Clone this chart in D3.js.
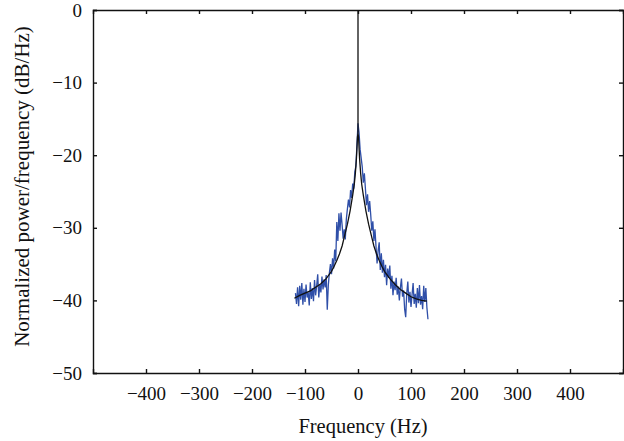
<!DOCTYPE html>
<html>
<head>
<meta charset="utf-8">
<script src="https://d3js.org/d3.v7.min.js"></script>
<style>
    html { font-family: "Liberation Serif", serif; }
    body { margin: 0; background: #fff; }
    .axis text { font-family: "Liberation Serif", serif; fill: #111; }
    .title { font-family: "Liberation Serif", serif; fill: #111; }
</style>
</head>
<body>
<div id="graph"></div>
<script>
    // axis ticks
    var xTicks = [-400, -300, -200, -100, 0, 100, 200, 300, 400];
    var yTicks = [0, -10, -20, -30, -40, -50];

    // measured spectrum (blue)
    var measFreq = d3.range(-118, 133, 2);
    var measPower = [
        -39.0, -40.5, -38.2, -40.8, -38.0, -39.9, -37.6, -40.6, -38.4, -40.2,
        -37.8, -39.6, -38.9, -40.7, -37.5, -39.8, -38.3, -40.1, -37.2, -39.3,
        -38.0, -36.4, -39.6, -37.8, -38.9, -36.7, -38.5, -37.1, -38.2, -36.5,
        -41.3, -37.9, -36.2, -35.0, -36.4, -34.2, -35.6, -33.0, -34.6, -29.2,
        -31.8, -28.0, -30.4, -27.9, -29.6, -31.5, -30.2, -31.6, -28.8, -27.4,
        -26.1, -27.2, -24.8, -25.9, -23.9, -24.6, -22.3, -21.5, -18.6, -15.6,
        -16.9, -19.2, -20.4, -21.6, -23.8, -22.5, -24.6, -26.9, -25.4, -27.8,
        -26.3, -28.2, -30.4, -29.1, -31.8, -30.2, -32.6, -34.9, -33.1, -32.0,
        -35.8, -33.5, -36.2, -34.4, -36.8, -35.1, -37.9, -35.6, -36.9, -35.2,
        -38.4, -36.6, -39.3, -37.4, -38.6, -36.9, -39.2, -38.1, -40.0, -38.2,
        -37.0, -39.5, -38.6, -41.2, -42.3, -39.0, -37.4, -40.3, -38.8, -40.9,
        -39.2, -37.6, -40.5, -39.1, -41.0, -38.3, -40.4, -37.9, -40.6, -39.4,
        -41.2, -38.0, -40.2, -38.3, -41.0, -42.6
    ];

    // fitted spectrum (black)
    var fitFreq = [-120, -110, -100, -90, -80, -70, -60, -50, -45, -40, -35, -30, -25, -20, -15, -10, -7, -5, -3, -2, -1,
                   0, 0, 0, 1, 2, 3, 5, 7, 10, 15, 20, 25, 30, 35, 40, 45, 50, 60, 70, 80, 90, 100, 110, 120, 130];
    var fitPower = [-39.7, -39.3, -39.0, -38.7, -38.2, -37.7, -37.0, -36.0, -35.3, -34.5, -33.6, -32.5, -31.0, -29.5, -27.7, -25.5, -24.0, -22.5, -20.5, -19.0, -17.5,
                    -17.0, 0, -17.0, -17.5, -19.0, -20.5, -22.5, -24.0, -25.5, -27.7, -29.5, -31.0, -32.5, -33.6, -34.5, -35.3, -36.0, -37.0, -37.8, -38.5, -39.0, -39.5, -39.8, -40.0, -40.1];

    var W = 624, H = 441;
    var margin = {top: 10, right: 1, bottom: 68, left: 93},
        width = W - margin.left - margin.right,
        height = H - margin.top - margin.bottom;

    var svg = d3.select("#graph")
        .append("svg")
          .attr("width", W)
          .attr("height", H)
        .append("g")
          .attr("transform", "translate(" + margin.left + "," + margin.top + ")");

    var x = d3.scaleLinear().domain([-500, 500]).range([0, width]);
    var y = d3.scaleLinear().domain([-50, 0]).range([height, 0]);

    function fmt(d) { return d < 0 ? "\u2212" + Math.abs(d) : "" + d; }

    // box axes, ticks pointing inward
    svg.append("g").attr("class", "axis")
        .attr("transform", "translate(0," + height + ")")
        .call(d3.axisBottom(x).tickValues(xTicks).tickSize(-4).tickPadding(14).tickFormat(fmt));
    svg.append("g").attr("class", "axis")
        .call(d3.axisTop(x).tickValues(xTicks).tickSize(-4).tickFormat(""));
    svg.append("g").attr("class", "axis")
        .call(d3.axisLeft(y).tickValues(yTicks).tickSize(-4).tickPadding(11).tickFormat(fmt));
    svg.append("g").attr("class", "axis")
        .attr("transform", "translate(" + width + ",0)")
        .call(d3.axisRight(y).tickValues(yTicks).tickSize(-4).tickFormat(""));

    svg.selectAll(".axis path, .axis line")
        .attr("stroke", "#111")
        .attr("stroke-width", 1.4);
    svg.selectAll(".axis .tick text").style("font-size", "19px");

    var meas = d3.line()
        .x(function(d, i) { return x(measFreq[i]); })
        .y(function(d) { return y(d); });

    svg.append("path")
        .datum(measPower)
        .attr("fill", "none")
        .attr("stroke", "#2f4fa8")
        .attr("stroke-width", 1.3)
        .attr("d", meas);

    var fit = d3.line()
        .x(function(d, i) { return x(fitFreq[i]); })
        .y(function(d) { return y(d); });

    svg.append("path")
        .datum(fitPower)
        .attr("fill", "none")
        .attr("stroke", "#111")
        .attr("stroke-width", 1.3)
        .attr("d", fit);

    // axis titles
    svg.append("text")
        .attr("class", "title")
        .style("font-size", "20.5px")
        .attr("x", x(0) + 5)
        .attr("y", height + 60)
        .attr("text-anchor", "middle")
        .text("Frequency (Hz)");

    svg.append("text")
        .attr("class", "title")
        .style("font-size", "21px")
        .attr("transform", "translate(" + (-64) + "," + (height / 2 - 5) + ") rotate(-90)")
        .attr("text-anchor", "middle")
        .text("Normalized power/frequency (dB/Hz)");
</script>
</body>
</html>
